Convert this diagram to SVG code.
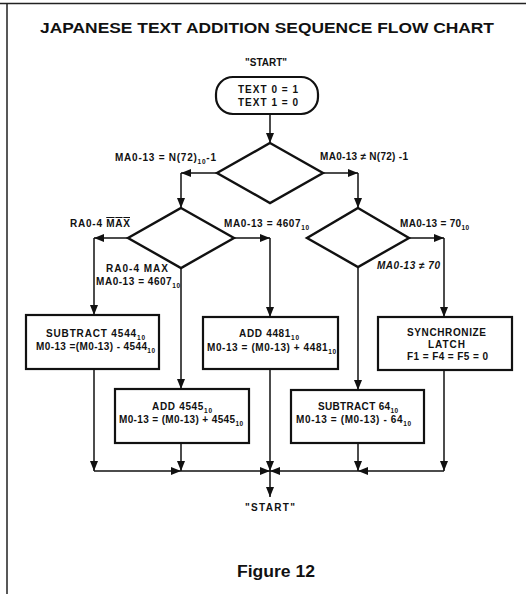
<svg xmlns="http://www.w3.org/2000/svg" width="526" height="594" viewBox="0 0 526 594">
  <defs>
    <marker id="arrow" viewBox="0 0 10 8" refX="10" refY="4" markerWidth="10" markerHeight="8" markerUnits="userSpaceOnUse" orient="auto">
      <path d="M0,0 L10,4 L0,8 z" fill="#111"/>
    </marker>
    <style>
      .frame { stroke: #222; stroke-width: 1.5; fill: none; }
      .shape { fill: #fff; stroke: #111; stroke-width: 2.2; }
      .diamond { fill: #fff; stroke: #111; stroke-width: 2.4; stroke-linejoin: miter; }
      .conn { fill: none; stroke: #111; stroke-width: 1.5; }
      .arr { marker-end: url(#arrow); }
      text { font-family: "Liberation Sans", Arial, Helvetica, sans-serif; fill: #111; }
      .title { font-size: 14px; font-weight: bold; }
      .fig { font-size: 16px; font-weight: bold; }
      .t { font-size: 10px; font-weight: bold; }
      .lbl { font-size: 10px; font-weight: bold; }
      .sub { font-size: 6.5px; }
      .ov { text-decoration: overline; }
      .c { text-anchor: middle; }
    </style>
  </defs>

  <rect width="526" height="594" fill="#fff"/>

  <!-- page frame: top rule and left rule only -->
  <path class="frame" d="M0,3.5 H526 M7,3.5 V594"/>

  <text class="title" x="40" y="33" textLength="454" lengthAdjust="spacingAndGlyphs">JAPANESE TEXT ADDITION SEQUENCE FLOW CHART</text>

  <!-- start terminal -->
  <g id="start">
    <text class="t" x="245" y="66" textLength="42" lengthAdjust="spacingAndGlyphs">"START"</text>
    <rect class="shape" x="216" y="77" width="102" height="37" rx="17" ry="17"/>
    <text class="t c" x="268" y="93" textLength="60" lengthAdjust="spacing">TEXT 0 = 1</text>
    <text class="t c" x="268" y="105.5" textLength="60" lengthAdjust="spacing">TEXT 1 = 0</text>
  </g>

  <!-- decisions -->
  <g id="decision-n72">
    <polygon class="diamond" points="270,143 323,173 270,203 217,173"/>
  </g>
  <g id="decision-max">
    <polygon class="diamond" points="181,208 234,238 181,268 128,238"/>
  </g>
  <g id="decision-70">
    <polygon class="diamond" points="358,208 409,238 358,267 307,238"/>
  </g>

  <!-- process boxes -->
  <g id="sub-4544">
    <rect class="shape" x="26" y="315" width="133" height="54"/>
    <text class="t" x="46" y="337" textLength="99" lengthAdjust="spacing">SUBTRACT 4544<tspan class="sub" dy="3">10</tspan></text>
    <text class="t" x="36" y="350" textLength="119" lengthAdjust="spacing">M0-13 =(M0-13) - 4544<tspan class="sub" dy="3">10</tspan></text>
  </g>
  <g id="add-4545">
    <rect class="shape" x="115" y="389" width="134" height="54"/>
    <text class="t" x="152" y="410" textLength="60" lengthAdjust="spacing">ADD 4545<tspan class="sub" dy="3">10</tspan></text>
    <text class="t" x="119" y="423" textLength="124" lengthAdjust="spacing">M0-13 = (M0-13) + 4545<tspan class="sub" dy="3">10</tspan></text>
  </g>
  <g id="add-4481">
    <rect class="shape" x="203" y="317" width="135" height="52"/>
    <text class="t" x="239" y="337" textLength="60" lengthAdjust="spacing">ADD 4481<tspan class="sub" dy="3">10</tspan></text>
    <text class="t" x="207" y="351" textLength="129" lengthAdjust="spacing">M0-13 = (M0-13) + 4481<tspan class="sub" dy="3">10</tspan></text>
  </g>
  <g id="sub-64">
    <rect class="shape" x="291" y="390" width="133" height="53"/>
    <text class="t" x="318" y="410" textLength="80" lengthAdjust="spacing">SUBTRACT 64<tspan class="sub" dy="3">10</tspan></text>
    <text class="t" x="296" y="423" textLength="115" lengthAdjust="spacing">M0-13  =  (M0-13)  -  64<tspan class="sub" dy="3">10</tspan></text>
  </g>
  <g id="sync-latch">
    <rect class="shape" x="378" y="317" width="134" height="53"/>
    <text class="t c" x="446.5" y="336" textLength="79" lengthAdjust="spacing">SYNCHRONIZE</text>
    <text class="t c" x="446.5" y="347.5" textLength="37" lengthAdjust="spacing">LATCH</text>
    <text class="t c" x="447.5" y="359.5" textLength="81" lengthAdjust="spacing">F1 = F4 = F5 = 0</text>
  </g>

  <!-- end -->
  <g id="end">
    <text class="t" x="245" y="511" textLength="50" lengthAdjust="spacing">"START"</text>
  </g>

  <!-- connectors -->
  <g id="connectors">
    <path class="conn arr" d="M270,114 V143"/>
    <path class="conn arr" d="M217,173 H181"/>
    <path class="conn arr" d="M181,173 V208"/>
    <path class="conn arr" d="M323,173 H358"/>
    <path class="conn arr" d="M358,173 V208"/>

    <path class="conn arr" d="M128,238 H94"/>
    <path class="conn arr" d="M94,238 V315"/>
    <path class="conn arr" d="M181,268 V389"/>
    <path class="conn arr" d="M234,238 H270"/>
    <path class="conn arr" d="M270,238 V317"/>

    <path class="conn arr" d="M409,238 H444"/>
    <path class="conn arr" d="M444,238 V317"/>
    <path class="conn arr" d="M358,267 V390"/>

    <path class="conn arr" d="M94,369 V471"/>
    <path class="conn arr" d="M181,443 V471"/>
    <path class="conn arr" d="M270,369 V471"/>
    <path class="conn arr" d="M358,443 V471"/>
    <path class="conn arr" d="M444,370 V471"/>

    <path class="conn arr" d="M94,471 H181"/>
    <path class="conn arr" d="M181,471 H270"/>
    <path class="conn arr" d="M444,471 H358"/>
    <path class="conn arr" d="M358,471 H270"/>
    <path class="conn arr" d="M270,471 V497"/>

    <!-- branch labels -->
    <text class="lbl" x="115" y="161" textLength="101" lengthAdjust="spacing">MA0-13  = N(72)<tspan class="sub" dy="3">10</tspan><tspan dy="-3">-1</tspan></text>
    <text class="lbl" x="320" y="160" textLength="88" lengthAdjust="spacing">MA0-13 ≠ N(72) -1</text>
    <text class="lbl" x="70" y="227" textLength="60" lengthAdjust="spacing">RA0-4 <tspan class="ov">MAX</tspan></text>
    <text class="lbl" x="224" y="227" textLength="85" lengthAdjust="spacing">MA0-13  = 4607<tspan class="sub" dy="3">10</tspan></text>
    <text class="lbl" x="106" y="272" textLength="62" lengthAdjust="spacing">RA0-4  MAX</text>
    <text class="lbl" x="96" y="285" textLength="84" lengthAdjust="spacing">MA0-13 = 4607<tspan class="sub" dy="3">10</tspan></text>
    <text class="lbl" x="400" y="227" textLength="69" lengthAdjust="spacing">MA0-13 = 70<tspan class="sub" dy="3">10</tspan></text>
    <text class="lbl" x="377" y="269" textLength="63" lengthAdjust="spacing" font-style="italic">MA0-13 ≠ 70</text>
  </g>

  <text class="fig" x="237" y="577" textLength="78" lengthAdjust="spacingAndGlyphs">Figure 12</text>
</svg>
